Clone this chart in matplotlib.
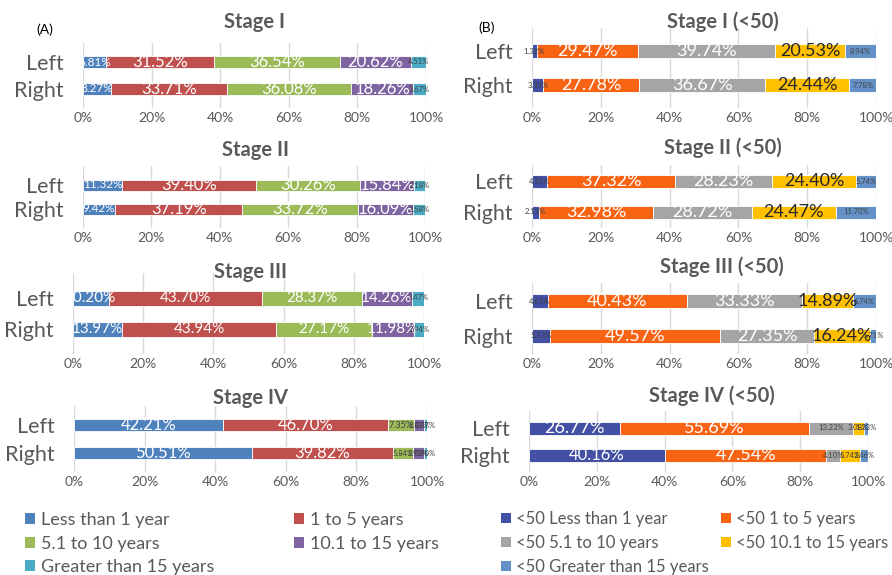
import matplotlib
matplotlib.use('Agg')
import matplotlib.pyplot as plt
from matplotlib.patches import Patch

W, H = 892, 575

rows = ['Left', 'Right']

# panel A: all ages
cats_a = ['Less than 1 year', '1 to 5 years', '5.1 to 10 years',
          '10.1 to 15 years', 'Greater than 15 years']
stage1_a = [[6.81, 31.52, 36.54, 20.62, 4.51], [8.27, 33.71, 36.08, 18.26, 3.67]]
stage2_a = [[11.32, 39.40, 30.26, 15.84, 3.18], [9.42, 37.19, 33.72, 16.09, 3.58]]
stage3_a = [[10.20, 43.70, 28.37, 14.26, 3.47], [13.97, 43.94, 27.17, 11.98, 2.94]]
stage4_a = [[42.21, 46.70, 7.35, 2.87, 0.87], [50.51, 39.82, 5.84, 2.93, 0.90]]

# panel B: under 50
cats_b = ['<50 Less than 1 year', '<50 1 to 5 years', '<50 5.1 to 10 years',
          '<50 10.1 to 15 years', '<50 Greater than 15 years']
stage1_b = [[1.32, 29.47, 39.74, 20.53, 8.94], [3.33, 27.78, 36.67, 24.44, 7.78]]
stage2_b = [[4.31, 37.32, 28.23, 24.40, 5.74], [2.13, 32.98, 28.72, 24.47, 11.70]]
stage3_b = [[4.61, 40.43, 33.33, 14.89, 6.74], [5.13, 49.57, 27.35, 16.24, 1.71]]
stage4_b = [[26.77, 55.69, 13.23, 3.08, 1.23], [40.16, 47.54, 4.10, 5.74, 2.46]]

titles_a = ['Stage I', 'Stage II', 'Stage III', 'Stage IV']
titles_b = ['Stage I (<50)', 'Stage II (<50)', 'Stage III (<50)', 'Stage IV (<50)']

colors_a = ['#4F81BD', '#C0504D', '#9BBB59', '#8064A2', '#4BACC6']
colors_b = ['#4350A3', '#F86414', '#A5A5A5', '#FFC000', '#6591C9']

GRAY = '#595959'
plt.rcParams['font.family'] = ['Lato', 'DejaVu Sans']

fig = plt.figure(figsize=(W / 100, H / 100), dpi=100)

# layout in pixels: x0, x1, y_left, y_right, bar_px, tick_y, title_x, title_y, mid_size
lay_a = [
    (83, 426, 62, 89, 12, 118, 255, 22, 8.5),
    (83, 425, 185, 209, 11, 238, 255, 150, 8.5),
    (73, 424, 298, 329, 15, 364, 251, 272, 11),
    (74, 427, 425, 453, 12, 482, 251, 398, 8.5),
]
lay_b = [
    (532, 876, 51, 85, 14, 118, 723, 22, 6),
    (532, 876, 181, 212, 13, 238, 723, 148, 6),
    (532, 876, 301, 336, 14, 364, 722, 267, 6),
    (529, 868, 428, 455, 13, 482, 712, 396, 6),
]


def draw_panel(vals, cols, lay, title, is_b):
    x0, x1, yl, yr, bpx, ty, tx, tty, mid = lay
    s = yr - yl
    bot = ty - 10
    top = yl - (bot - yr)
    ax = fig.add_axes([x0 / W, 1 - bot / H, (x1 - x0) / W, (bot - top) / H])
    for r, row in enumerate(vals):
        left = 0
        for k, v in enumerate(row):
            ax.barh(r, v, left=left, height=bpx / s, color=cols[k],
                    edgecolor='white', linewidth=0.6, zorder=3)
            cx = left + v / 2
            if v >= 14:
                fs = 13 if is_b else 12
                if is_b and k == 0 and r == 1 and v > 30:
                    fs = 12
                tc = '#262626' if (is_b and k == 3) else 'white'
            elif v >= 6 and not is_b and k != 2:
                fs, tc = mid, 'white'
            elif v >= 6 and not is_b:
                fs, tc = 6.5, '#404040'
            else:
                fs, tc = 5.5, '#404040'
            if not is_b and mid > 10 and v >= 6:
                fs, tc = 11, 'white'
            ax.text(cx, r, f'{v:.2f}%', ha='center', va='center',
                    fontsize=fs, color=tc, zorder=4)
            left += v
    ax.set_xlim(0, 100)
    ax.set_ylim(1 + (bot - yr) / s, -(yl - top) / s)
    ax.set_yticks([0, 1])
    ax.set_yticklabels(rows, fontsize=15.5, color=GRAY)
    ax.set_xticks(range(0, 101, 20))
    ax.set_xticklabels([f'{t}%' for t in range(0, 101, 20)], fontsize=10, color=GRAY)
    ax.tick_params(axis='x', length=0, pad=3)
    ax.tick_params(axis='y', length=0, pad=14)
    ax.grid(axis='x', color='#D9D9D9', linewidth=1, zorder=0)
    for sp in ax.spines.values():
        sp.set_visible(False)
    fig.text(tx / W, 1 - tty / H, title, ha='center', va='center',
             fontsize=14.5, fontweight='bold', color=GRAY)


data_a = [stage1_a, stage2_a, stage3_a, stage4_a]
data_b = [stage1_b, stage2_b, stage3_b, stage4_b]
for i in range(4):
    draw_panel(data_a[i], colors_a, lay_a[i], titles_a[i], False)
    draw_panel(data_b[i], colors_b, lay_b[i], titles_b[i], True)

fig.text(45 / W, 1 - 30 / H, '(A)', ha='center', va='center', fontsize=10, color='black')
fig.text(487 / W, 1 - 28 / H, '(B)', ha='center', va='center', fontsize=10, color='black')


def add_legend(names, cols, idx, x_px, fs, sp):
    handles = [Patch(facecolor=cols[i], label=names[i]) for i in idx]
    fig.legend(handles=handles, loc='upper left',
               bbox_to_anchor=(x_px / W, 1 - 503 / H), frameon=False,
               fontsize=fs, handlelength=0.55, handleheight=0.55,
               handletextpad=0.35, labelspacing=sp, borderpad=0,
               labelcolor=GRAY)


add_legend(cats_a, colors_a, [0, 2, 4], 16, 13, 0.42)
add_legend(cats_a, colors_a, [1, 3], 285, 13, 0.42)
add_legend(cats_b, colors_b, [0, 2, 4], 493, 12, 0.47)
add_legend(cats_b, colors_b, [1, 3], 713, 12, 0.47)

fig.savefig('out.png', dpi=100)
